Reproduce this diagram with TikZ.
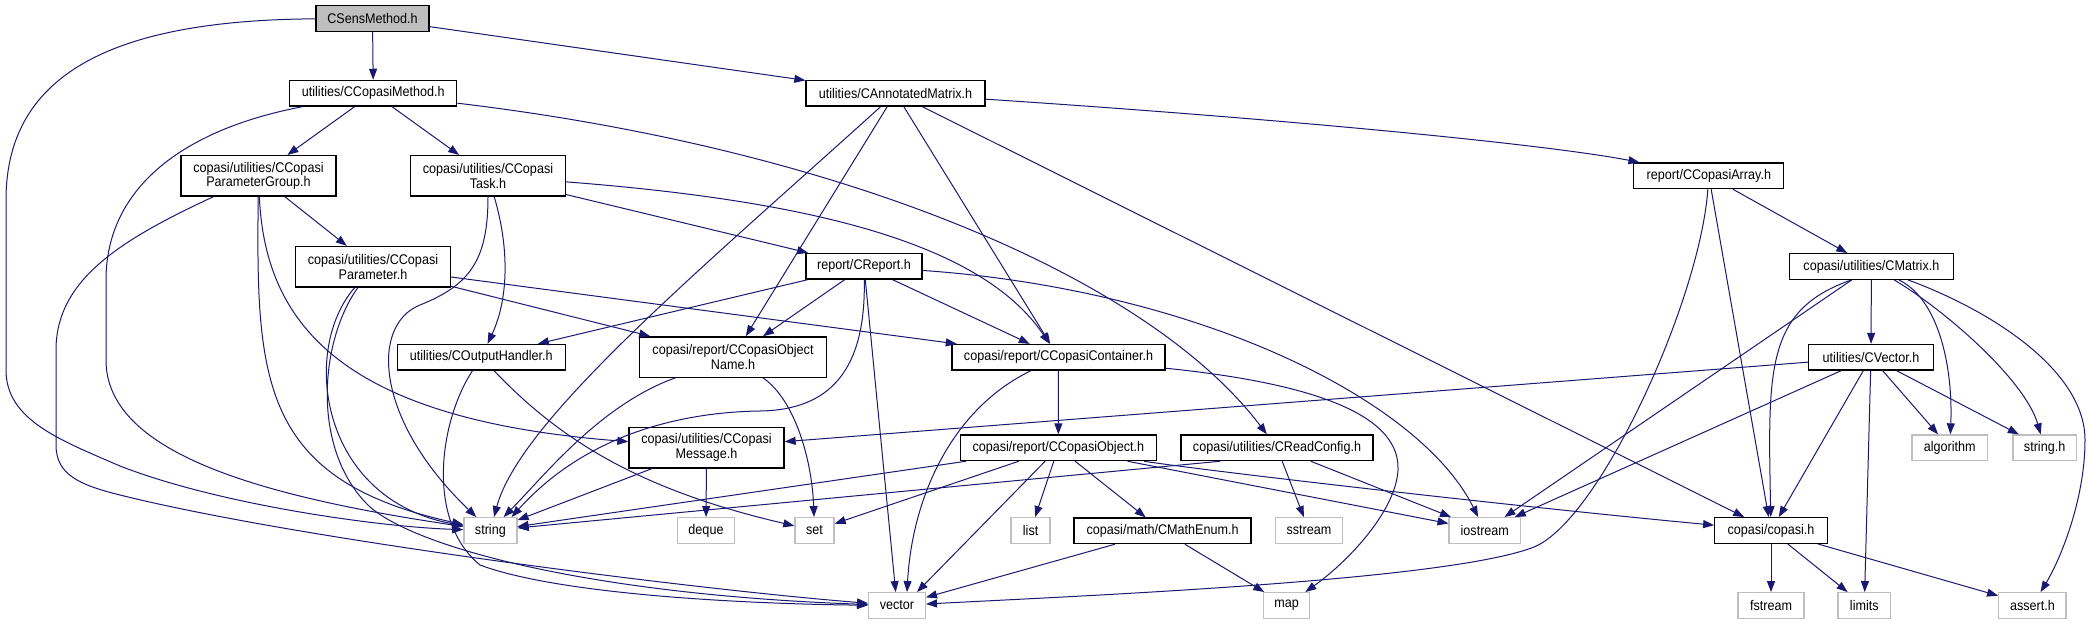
\documentclass[tikz,border=0pt]{standalone}
\usepackage{fontspec}
\setmainfont{Liberation Sans}[FakeStretch=0.9]
\usetikzlibrary{arrows.meta}
\definecolor{edgeblue}{HTML}{191970}
\definecolor{sysgrey}{HTML}{BFBFBF}
\begin{document}
\begin{tikzpicture}[x=1pt,y=-1pt,
  box/.style={draw=black, line width=1.3pt, fill=white, minimum height=25.6pt, inner sep=0pt, align=center, font=\fontsize{14}{14.7}\selectfont},
  tall/.style={minimum height=40.3pt},
  sys/.style={box, draw=sysgrey},
  wd/.style={minimum width=#1pt},
  edge/.style={draw=edgeblue, line width=1pt, -{Triangle[length=11pt,width=8pt]}}
]
\path[use as bounding box] (0,0) rectangle (2089,624);
% project headers
\node[box, wd=113, fill=sysgrey] (S) at (372.5,18.5) {CSensMethod.h};
\node[box, wd=167] (CM) at (373.3,93.2) {utilities/CCopasiMethod.h};
\node[box, wd=179] (AM) at (895.5,93.2) {utilities/CAnnotatedMatrix.h};
\node[box, tall, wd=155] (PG) at (258.5,175.8) {copasi/utilities/CCopasi\\ParameterGroup.h};
\node[box, tall, wd=155] (TK) at (488,175.8) {copasi/utilities/CCopasi\\Task.h};
\node[box, wd=150] (AR) at (1708.8,175.8) {report/CCopasiArray.h};
\node[box, tall, wd=155] (PA) at (373,266.7) {copasi/utilities/CCopasi\\Parameter.h};
\node[box, wd=116] (RP) at (864,266.3) {report/CReport.h};
\node[box, wd=164] (MX) at (1871.4,266.5) {copasi/utilities/CMatrix.h};
\node[box, wd=168] (OH) at (481.3,357.3) {utilities/COutputHandler.h};
\node[box, tall, wd=186.6] (ON) at (733,357) {copasi/report/CCopasiObject\\Name.h};
\node[box, wd=213] (CT) at (1058.5,357.3) {copasi/report/CCopasiContainer.h};
\node[box, wd=125] (VC) at (1871,357.3) {utilities/CVector.h};
\node[box, tall, wd=155] (MS) at (706.5,447.7) {copasi/utilities/CCopasi\\Message.h};
\node[box, wd=196] (OB) at (1058.3,447.8) {copasi/report/CCopasiObject.h};
\node[box, wd=192] (RC) at (1277,447.8) {copasi/utilities/CReadConfig.h};
\node[box, wd=177] (ME) at (1162.6,530.8) {copasi/math/CMathEnum.h};
\node[box, wd=112.5] (CP) at (1771,530.5) {copasi/copasi.h};
% system headers
\node[sys, wd=75.5] (ALG) at (1949.8,447.8) {algorithm};
\node[sys, wd=63.4] (STH) at (2044.6,447.8) {string.h};
\node[sys, wd=53] (STR) at (490.4,530.5) {string};
\node[sys, wd=57.6] (DQ) at (706,530.5) {deque};
\node[sys, wd=39] (SET) at (814.5,530.5) {set};
\node[sys, wd=39] (LST) at (1030.6,530.5) {list};
\node[sys, wd=66.5] (SS) at (1309,530.5) {sstream};
\node[sys, wd=71.4] (IO) at (1484.8,530.5) {iostream};
\node[sys, wd=56.7] (VEC) at (897,605.5) {vector};
\node[sys, wd=46] (MAP) at (1286.6,605.5) {map};
\node[sys, wd=66] (FS) at (1771,605.5) {fstream};
\node[sys, wd=52.7] (LIM) at (1864.3,605.5) {limits};
\node[sys, wd=67.4] (AS) at (2032.4,605.5) {assert.h};
% edges
\draw[edge] (S) -- (CM);
\draw[edge] (S) -- (AM);
\draw[edge] (S) .. controls (120,20) and (6,70) .. (6,200) -- (6,370) .. controls (6,420) and (60,440) .. (120,466) .. controls (220,505) and (380,527) .. (STR);
\draw[edge] (CM) -- (PG);
\draw[edge] (CM) -- (TK);
\draw[edge] (CM) .. controls (180,130) and (106,190) .. (106,280) -- (106,360) .. controls (106,450) and (250,495) .. (STR);
\draw[edge] (CM) .. controls (850,150) and (1150,280) .. (RC);
\draw[edge] (AM) .. controls (700,270) and (520,420) .. (STR);
\draw[edge] (AM) -- (ON);
\draw[edge] (AM) -- (CT);
\draw[edge] (AM) -- (CP);
\draw[edge] (AM) .. controls (1300,120) and (1550,145) .. (AR);
\draw[edge] (PG) -- (PA);
\draw[edge] (PG) .. controls (120,240) and (56,280) .. (56,350) -- (56,445) .. controls (56,475) and (80,485) .. (120,495) .. controls (300,540) and (700,590) .. (VEC);
\draw[edge] (PG) .. controls (256,380) and (260,480) .. (STR);
\draw[edge] (PG) .. controls (265,330) and (350,420) .. (MS);
\draw[edge] (TK) .. controls (488,260) and (470,285) .. (420,305) .. controls (370,325) and (375,420) .. (STR);
\draw[edge] (TK) .. controls (510,250) and (508,300) .. (OH);
\draw[edge] (TK) .. controls (800,200) and (980,240) .. (CT);
\draw[edge] (TK) -- (RP);
\draw[edge] (AR) -- (MX);
\draw[edge] (AR) .. controls (1700,300) and (1600,520) .. (1534,547) .. controls (1450,580) and (1100,595) .. (VEC);
\draw[edge] (AR) -- (CP);
\draw[edge] (PA) .. controls (300,350) and (320,500) .. (STR);
\draw[edge] (PA) .. controls (320,340) and (310,450) .. (370,507) .. controls (420,550) and (600,595) .. (VEC);
\draw[edge] (PA) -- (CT);
\draw[edge] (PA) -- (ON);
\draw[edge] (RP) -- (OH);
\draw[edge] (RP) -- (ON);
\draw[edge] (RP) -- (VEC);
\draw[edge] (RP) .. controls (866,370) and (830,410) .. (760,411) .. controls (690,412) and (590,430) .. ([xshift=-6pt]STR.north east);
\draw[edge] (RP) -- (CT);
\draw[edge] (RP) .. controls (1200,290) and (1420,400) .. (IO);
\draw[edge] (MX) -- (VC);
\draw[edge] (MX) -- (IO);
\draw[edge] ([xshift=-20pt]MX.south) .. controls (1765,310) and (1768,370) .. (CP);
\draw[edge] (MX) .. controls (1940,300) and (1953,370) .. (ALG);
\draw[edge] (MX) .. controls (1945,310) and (2025,380) .. (STH);
\draw[edge] (MX) .. controls (1990,310) and (2085,370) .. (2085,440) .. controls (2085,500) and (2060,560) .. (AS);
\draw[edge] (OH) .. controls (440,420) and (425,520) .. (480,565) .. controls (560,595) and (750,604) .. (VEC);
\draw[edge] (OH) .. controls (560,440) and (640,490) .. (SET);
\draw[edge] (ON) .. controls (600,405) and (545,475) .. (STR);
\draw[edge] (ON) .. controls (795,400) and (812,460) .. (SET);
\draw[edge] (CT) .. controls (950,410) and (912,500) .. ([xshift=10pt]VEC.north);
\draw[edge] (CT) -- (OB);
\draw[edge] (CT) .. controls (1330,385) and (1400,420) .. (1398,470) .. controls (1396,510) and (1350,560) .. (MAP);
\draw[edge] (VC) -- (MS);
\draw[edge] (VC) -- (IO);
\draw[edge] (VC) -- (CP);
\draw[edge] (VC) -- (LIM);
\draw[edge] (VC) -- (ALG);
\draw[edge] (VC) -- (STH);
\draw[edge] (MS) -- (DQ);
\draw[edge] (MS) -- (STR);
\draw[edge] (OB) -- (STR);
\draw[edge] (OB) -- (SET);
\draw[edge] (OB) -- ([xshift=20pt]VEC.north);
\draw[edge] (OB) -- (LST);
\draw[edge] (OB) -- (ME);
\draw[edge] (OB) -- (IO);
\draw[edge] (OB) .. controls (1200,470) and (1500,505) .. (CP);
\draw[edge] ([xshift=-57pt]RC.south) -- (STR);
\draw[edge] (RC) -- (SS);
\draw[edge] (RC) -- (IO);
\draw[edge] (ME) -- (VEC);
\draw[edge] (ME) -- (MAP);
\draw[edge] (CP) -- (FS);
\draw[edge] (CP) -- (LIM);
\draw[edge] (CP) -- (AS);
\end{tikzpicture}
\end{document}
